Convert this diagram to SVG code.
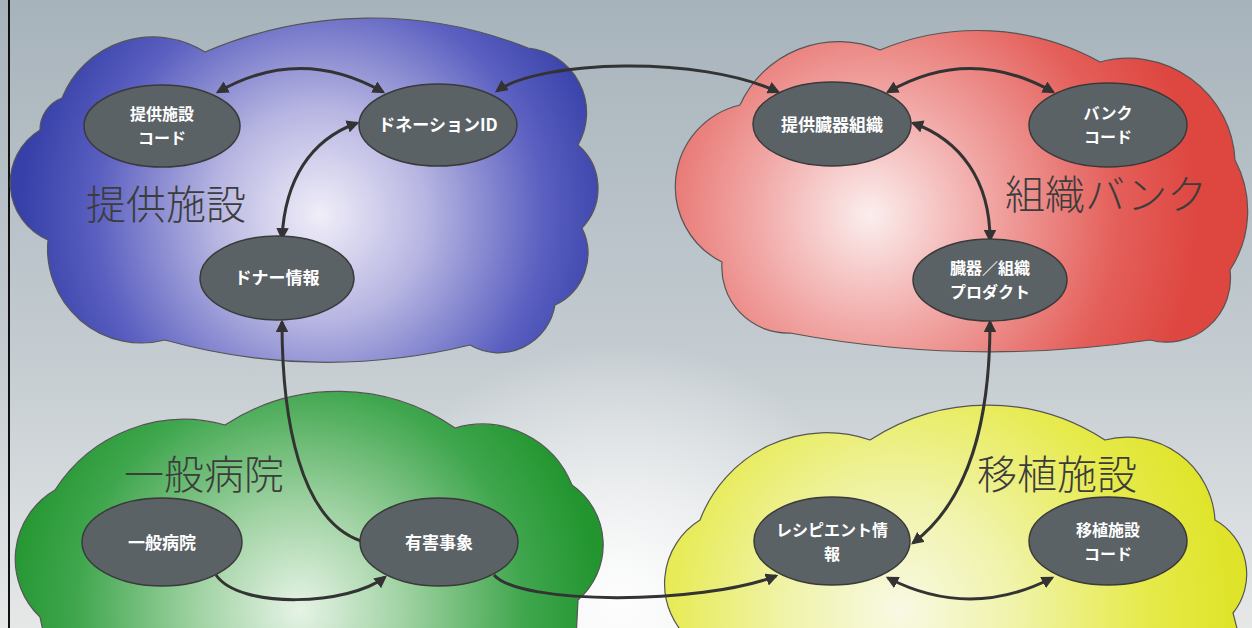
<svg xmlns="http://www.w3.org/2000/svg" width="1252" height="628" viewBox="0 0 1252 628">
<defs>
<linearGradient id="bg" x1="0" y1="0" x2="0" y2="1">
<stop offset="0" stop-color="#a7b3bb"/>
<stop offset="0.55" stop-color="#c3cbd0"/>
<stop offset="1" stop-color="#e6e8e8"/>
</linearGradient>
<radialGradient id="bgw" cx="620" cy="600" r="260" gradientUnits="userSpaceOnUse">
<stop offset="0" stop-color="#ffffff" stop-opacity="0.95"/>
<stop offset="1" stop-color="#ffffff" stop-opacity="0"/>
</radialGradient>
<radialGradient id="gBlue" cx="320" cy="215" r="300" gradientUnits="userSpaceOnUse">
<stop offset="0" stop-color="#f0eef8"/>
<stop offset="0.35" stop-color="#b8b6e2"/>
<stop offset="0.75" stop-color="#5a5fc0"/>
<stop offset="1" stop-color="#3640a8"/>
</radialGradient>
<radialGradient id="gRed" cx="870" cy="215" r="330" gradientUnits="userSpaceOnUse">
<stop offset="0" stop-color="#fbeeee"/>
<stop offset="0.35" stop-color="#f1a8a6"/>
<stop offset="0.75" stop-color="#e45f5a"/>
<stop offset="1" stop-color="#de4640"/>
</radialGradient>
<radialGradient id="gGreen" cx="300" cy="610" r="300" gradientUnits="userSpaceOnUse">
<stop offset="0" stop-color="#e6f3e6"/>
<stop offset="0.35" stop-color="#9fd2a2"/>
<stop offset="0.75" stop-color="#3fa64d"/>
<stop offset="1" stop-color="#22952f"/>
</radialGradient>
<radialGradient id="gYellow" cx="900" cy="610" r="330" gradientUnits="userSpaceOnUse">
<stop offset="0" stop-color="#f8f9e4"/>
<stop offset="0.35" stop-color="#f0f3a8"/>
<stop offset="0.75" stop-color="#e6ea4a"/>
<stop offset="1" stop-color="#dfe42a"/>
</radialGradient>
<marker id="arr" viewBox="0 0 10 10" refX="8" refY="5" markerWidth="4.2" markerHeight="4.2" orient="auto-start-reverse" markerUnits="strokeWidth">
<path d="M0,0 L10,5 L0,10 z" fill="#333"/>
</marker>
<style>
.cloud{stroke:#555;stroke-width:1.2}
.node ellipse{fill:#5b6266;stroke:#3a3a3a;stroke-width:1.5}
.node text{fill:#ffffff;font-family:"Noto Sans CJK JP","Noto Sans",sans-serif;font-weight:bold;font-size:17px;text-anchor:middle}
.node text.two{font-size:16px}
.label{fill:#3c3c3c;font-family:"Noto Sans CJK JP","Noto Sans",sans-serif;font-weight:300;font-size:40px}
.conn path{fill:none;stroke:#333;stroke-width:3}
.both{marker-start:url(#arr);marker-end:url(#arr)}
.end{marker-end:url(#arr)}
</style>
</defs>
<rect width="1252" height="628" fill="url(#bg)"/>
<rect width="1252" height="628" fill="url(#bgw)"/>
<line x1="9" y1="0" x2="9" y2="628" stroke="#111" stroke-width="2"/>

<g id="clouds">
<path id="cloud-blue" class="cloud" fill="url(#gBlue)" d="M62,98 A98,98 0 0 1 205,52 A424,424 0 0 1 528,48 A65,65 0 0 1 578,145 A57,57 0 0 1 582,228 A57,57 0 0 1 555,305 A57,57 0 0 1 470,345 A600,600 0 0 1 165,340 A94,94 0 0 1 48,240 A62,62 0 0 1 40,130 A34,34 0 0 1 62,98 Z"/>
<path id="cloud-red" class="cloud" fill="url(#gRed)" d="M740,105 A108,108 0 0 1 880,50 A254,254 0 0 1 1100,62 A107,107 0 0 1 1235,160 A108,108 0 0 1 1230,270 A64,64 0 0 1 1150,340 A1087,1087 0 0 1 790,333 A66,66 0 0 1 722,262 A84,84 0 0 1 740,105 Z"/>
<path id="cloud-green" class="cloud" fill="url(#gGreen)" d="M55,490 A153,153 0 0 1 225,425 A206,206 0 0 1 455,428 A97,97 0 0 1 572,485 A73,73 0 0 1 578,600 L576,640 L45,640 L40,617 A80,80 0 0 1 55,490 Z"/>
<path id="cloud-yellow" class="cloud" fill="url(#gYellow)" d="M700,520 A135,135 0 0 1 870,440 A215,215 0 0 1 1105,440 A88,88 0 0 1 1215,520 A62,62 0 0 1 1233,613 L1240,640 L690,640 A75,75 0 0 1 700,520 Z"/>
</g>

<g id="cloud-labels">
<text class="label" x="86" y="219">提供施設</text>
<text class="label" x="1005" y="209">組織バンク</text>
<text class="label" x="124" y="489">一般病院</text>
<text class="label" x="977" y="489">移植施設</text>
</g>

<g id="connectors" class="conn">
<path class="both" d="M218,92 Q300,45 383,92"/>
<path class="both" d="M497,91 C540,60 700,55 778,92"/>
<path class="both" d="M357,123 C310,140 285,180 282,238"/>
<path class="end" d="M361,541 C300,520 282,420 282,322"/>
<path class="end" d="M216,575 C240,610 350,605 385,577"/>
<path class="end" d="M494,575 C520,605 700,605 776,576"/>
<path class="both" d="M990,322 C990,420 970,500 913,543"/>
<path class="both" d="M913,123 C960,140 990,180 990,240"/>
<path class="both" d="M888,92 Q970,45 1053,92"/>
<path class="both" d="M888,578 Q970,620 1052,578"/>
</g>

<g id="n-teikyo-code" class="node"><ellipse cx="162" cy="126" rx="78" ry="41"/><text class="two" x="162" y="120">提供施設<tspan x="162" dy="24">コード</tspan></text></g>
<g id="n-donation-id" class="node"><ellipse cx="438" cy="125" rx="79" ry="41"/><text x="438" y="131">ドネーションID</text></g>
<g id="n-donor-info" class="node"><ellipse cx="277" cy="278" rx="77" ry="42"/><text x="277" y="284">ドナー情報</text></g>
<g id="n-teikyo-zoki" class="node"><ellipse cx="832" cy="124" rx="79" ry="42"/><text x="832" y="131">提供臓器組織</text></g>
<g id="n-bank-code" class="node"><ellipse cx="1108" cy="125" rx="79" ry="42"/><text class="two" x="1108" y="119">バンク<tspan x="1108" dy="24">コード</tspan></text></g>
<g id="n-product" class="node"><ellipse cx="990" cy="280" rx="77" ry="41"/><text class="two" x="990" y="274">臓器／組織<tspan x="990" dy="24">プロダクト</tspan></text></g>
<g id="n-hospital" class="node"><ellipse cx="162" cy="542" rx="80" ry="44"/><text x="162" y="549">一般病院</text></g>
<g id="n-adverse" class="node"><ellipse cx="439" cy="542" rx="79" ry="44"/><text x="439" y="549">有害事象</text></g>
<g id="n-recipient" class="node"><ellipse cx="832" cy="541" rx="78" ry="44"/><text class="two" x="832" y="536">レシピエント情<tspan x="832" dy="24">報</tspan></text></g>
<g id="n-transplant-code" class="node"><ellipse cx="1108" cy="541" rx="79" ry="44"/><text class="two" x="1108" y="536">移植施設<tspan x="1108" dy="24">コード</tspan></text></g>
</svg>
